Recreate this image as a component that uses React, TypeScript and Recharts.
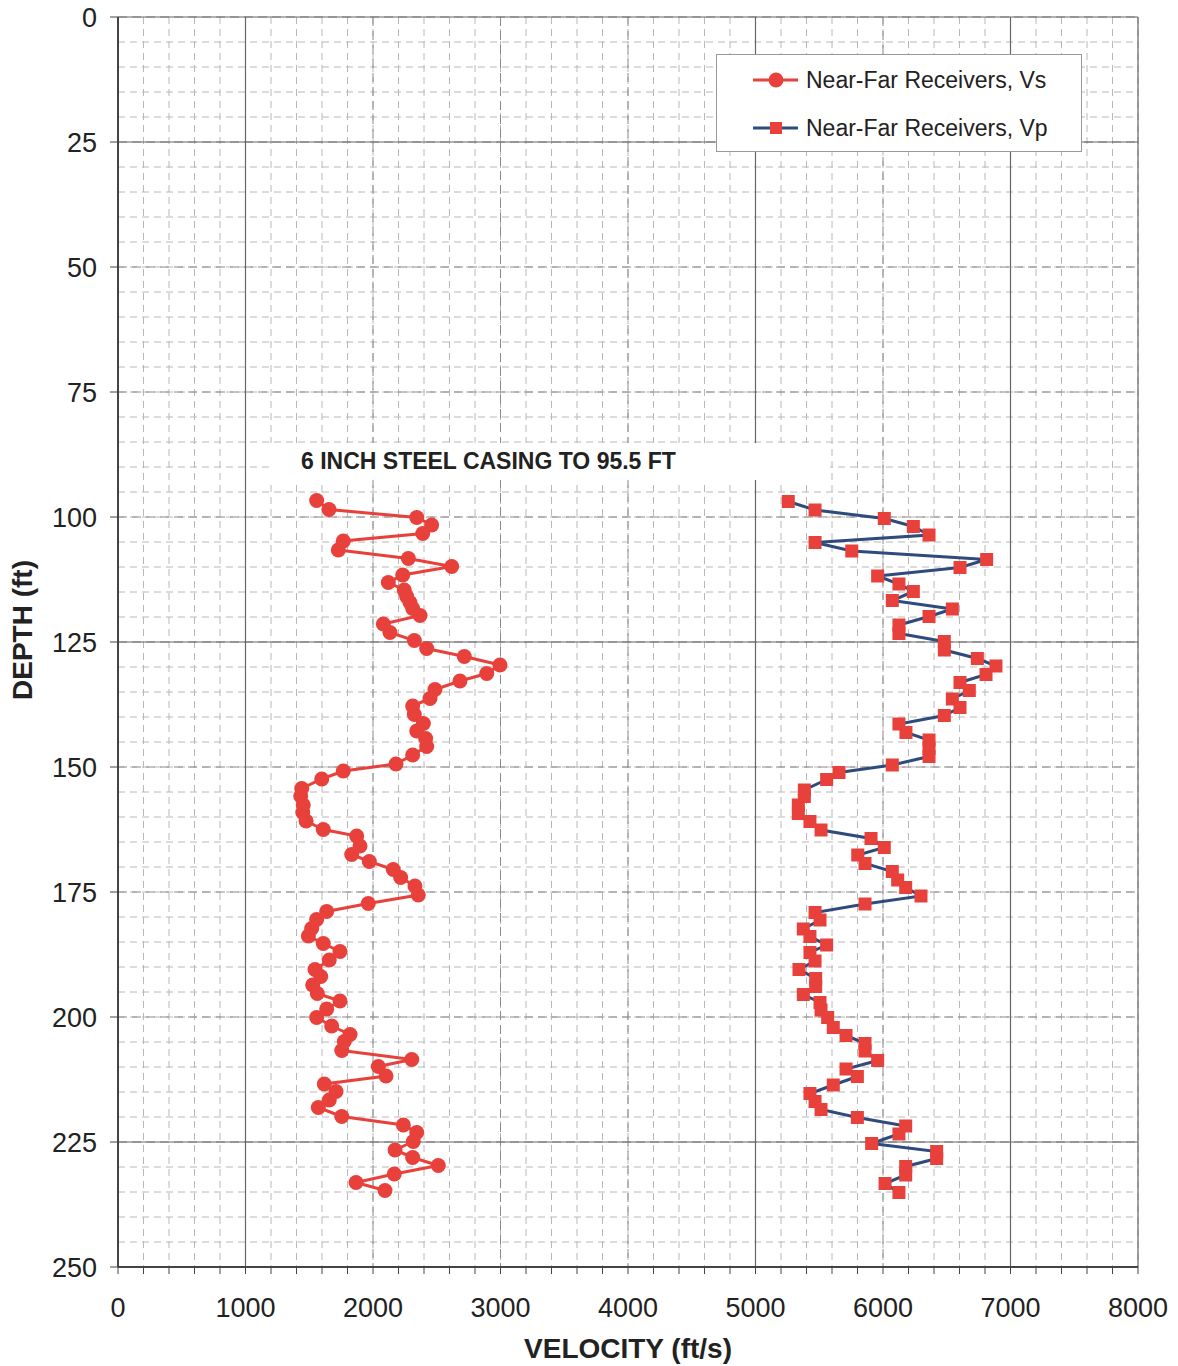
import React from "react"
import {
  ScatterChart,
  Scatter,
  XAxis,
  YAxis,
  CartesianGrid,
  Legend,
  Label,
} from "recharts"

// Vs (shear wave) readings, near-far receivers
const vsDepth = [
  96.7, 98.5, 100.1, 101.6, 103.3, 104.8, 106.6, 108.3, 109.9, 111.6, 113.1, 114.6,
  115.9, 117.1, 118.3, 119.7, 121.4, 123.1, 124.7, 126.3, 127.9, 129.6, 131.3, 132.8,
  134.5, 136.3, 137.8, 139.5, 141.3, 142.8, 144.3, 145.9, 147.6, 149.4, 150.8, 152.4,
  154.3, 155.8, 157.6, 159.1, 160.8, 162.5, 163.8, 165.8, 167.5, 168.9, 170.5, 172.1,
  173.8, 175.6, 177.3, 178.9, 180.5, 182.3, 183.8, 185.3, 186.9, 188.6, 190.5, 191.9,
  193.6, 195.3, 196.8, 198.4, 200.1, 201.8, 203.5, 204.9, 206.7, 208.5, 209.9, 211.8,
  213.4, 214.9, 216.6, 218.1, 219.9, 221.6, 223.1, 224.9, 226.6, 228.1, 229.7, 231.4,
  233.1, 234.7,
]
const vsVelocity = [
  1558, 1655, 2343, 2460, 2390, 1767, 1728, 2277, 2617, 2233, 2120, 2245,
  2264, 2290, 2311, 2369, 2081, 2133, 2324, 2421, 2716, 2996, 2892, 2682,
  2486, 2447, 2311, 2324, 2395, 2343, 2413, 2421, 2311, 2180, 1767, 1598,
  1441, 1433, 1453, 1449, 1475, 1610, 1872, 1898, 1833, 1971, 2159, 2217,
  2329, 2355, 1963, 1637, 1558, 1519, 1493, 1610, 1741, 1657, 1545, 1590,
  1527, 1563, 1741, 1637, 1558, 1676, 1820, 1775, 1755, 2304, 2042, 2102,
  1618, 1710, 1657, 1571, 1755, 2238, 2343, 2316, 2173, 2311, 2512, 2167,
  1867, 2094,
]

// Vp (compression wave) readings, near-far receivers
const vpDepth = [
  96.9, 98.6, 100.3, 101.9, 103.6, 105.1, 106.8, 108.5, 110.1, 111.8, 113.4, 114.9,
  116.7, 118.4, 119.9, 121.6, 123.3, 124.9, 126.6, 128.3, 129.8, 131.5, 133.1, 134.7,
  136.4, 138.1, 139.7, 141.4, 143.1, 144.6, 146.3, 147.9, 149.6, 151.1, 152.5,
  154.6, 155.9, 157.6, 159.3, 160.9, 162.6, 164.3, 166.1, 167.6, 169.3, 170.9, 172.6,
  174.1, 175.8, 177.4, 179.1, 180.6, 182.4, 183.9, 185.6, 187.1, 188.8, 190.5, 192.3,
  193.9, 195.5, 197.1, 198.6, 200.1, 202.1, 203.7, 205.3, 206.8, 208.7, 210.4, 211.9,
  213.6, 215.3, 216.9, 218.5, 220.1, 221.8, 223.4, 225.3, 226.9, 228.3, 229.9, 231.6,
  233.3, 235.1,
]
const vpVelocity = [
  5257, 5467, 6010, 6238, 6361, 5467, 5755, 6813, 6604, 5958, 6125, 6238,
  6073, 6544, 6361, 6125, 6125, 6481, 6481, 6740, 6886, 6808, 6604, 6677,
  6544, 6604, 6481, 6125, 6180, 6361, 6361, 6361, 6073, 5655, 5558,
  5383, 5383, 5336, 5336, 5427, 5514, 5906, 6010, 5802, 5859, 6073, 6115,
  6178, 6298, 5859, 5467, 5506, 5375, 5427, 5558, 5427, 5467, 5341, 5472,
  5472, 5375, 5506, 5514, 5566, 5610, 5710, 5859, 5859, 5958, 5710, 5799,
  5610, 5427, 5467, 5514, 5799, 6178, 6125, 5911, 6421, 6421, 6178, 6178,
  6016, 6125,
]

// axis ticks / grid
const depthTicks = [0, 25, 50, 75, 100, 125, 150, 175, 200, 225, 250]
const velocityTicks = [
  0, 200, 400, 600, 800, 1000, 1200, 1400, 1600, 1800, 2000, 2200, 2400, 2600, 2800,
  3000, 3200, 3400, 3600, 3800, 4000, 4200, 4400, 4600, 4800, 5000, 5200, 5400, 5600,
  5800, 6000, 6200, 6400, 6600, 6800, 7000, 7200, 7400, 7600, 7800, 8000,
]
const velocityLabels = [0, 1000, 2000, 3000, 4000, 5000, 6000, 7000, 8000]
const minorDepthGrid = [
  5, 10, 15, 20, 30, 35, 40, 45, 50, 55, 60, 65, 70, 75, 80, 85, 90, 95, 100, 105, 110,
  115, 120, 130, 135, 140, 145, 150, 155, 160, 165, 170, 175, 180, 185, 190, 195, 200,
  205, 210, 215, 220, 230, 235, 240, 245,
]
const midVelocityGrid = [2000, 3000, 4000, 6000]
const majorDepthGrid = [0, 25, 125, 225]
const majorVelocityGrid = [1000, 5000, 7000, 8000]

const vsData = vsDepth.map((d, i) => ({ depth: d, velocity: vsVelocity[i] }))
const vpData = vpDepth.map((d, i) => ({ depth: d, velocity: vpVelocity[i] }))

const RED = "#e8413c"
const BLUE = "#2f4a7c"
const FONT = "'Liberation Sans', Arial, sans-serif"

const Dot = (p: any) => <circle cx={p.cx} cy={p.cy} r={7.5} fill={RED} />
const Square = (p: any) => (
  <rect x={p.cx - 6.5} y={p.cy - 6.5} width={13} height={13} fill={RED} />
)

const VelocityTick = (p: any) => {
  if (!velocityLabels.includes(p.payload.value)) return <g />
  return (
    <text x={p.x} y={p.y} dy="0.71em" textAnchor="middle" fontSize={27} fill="#222" fontFamily={FONT}>
      {p.payload.value}
    </text>
  )
}

const renderLegend = () => (
  <div
    style={{
      width: 366,
      height: 98,
      border: "1px solid #999",
      background: "#fff",
      boxSizing: "border-box",
      fontFamily: FONT,
      fontSize: 23,
      color: "#222",
      paddingTop: 9,
    }}
  >
    {[
      { name: "Near-Far Receivers, Vs", line: RED, shape: "circle" },
      { name: "Near-Far Receivers, Vp", line: BLUE, shape: "square" },
    ].map((s) => (
      <div key={s.name} style={{ display: "flex", alignItems: "center", height: 32, marginBottom: 16 }}>
        <svg width={50} height={20} style={{ marginLeft: 35, marginRight: 4 }}>
          <line x1={1} y1={10} x2={46} y2={10} stroke={s.line} strokeWidth={3} />
          {s.shape === "circle" ? (
            <circle cx={24} cy={10} r={7.5} fill={RED} />
          ) : (
            <rect x={18} y={4} width={12} height={12} fill={RED} />
          )}
        </svg>
        <span>{s.name}</span>
      </div>
    ))}
  </div>
)

export default function App() {
  return (
    <div style={{ position: "relative", width: 1170, height: 1366, marginTop: -8, fontFamily: FONT }}>
      <ScatterChart width={1170} height={1366} margin={{ top: 17, right: 40, bottom: 0, left: 0 }}>
        <CartesianGrid
          stroke="#b8b8b8"
          strokeDasharray="7 5"
          horizontalValues={minorDepthGrid}
          verticalValues={velocityTicks}
        />
        <CartesianGrid
          stroke="#8a8a8a"
          strokeDasharray="9 5"
          horizontalValues={[]}
          verticalValues={midVelocityGrid}
        />
        <CartesianGrid
          stroke="#666"
          strokeWidth={1.2}
          horizontalValues={majorDepthGrid}
          verticalValues={majorVelocityGrid}
        />
        <XAxis
          type="number"
          dataKey="velocity"
          domain={[0, 8000]}
          ticks={velocityTicks}
          interval={0}
          tick={<VelocityTick />}
          tickSize={7}
          tickMargin={24}
          height={99}
          axisLine={{ stroke: "#444", strokeWidth: 2 }}
          tickLine={{ stroke: "#444" }}
        >
          <Label
            value="VELOCITY (ft/s)"
            position="insideBottom"
            offset={8}
            style={{ fontSize: 28, fontWeight: "bold", fill: "#222", fontFamily: FONT }}
          />
        </XAxis>
        <YAxis
          type="number"
          dataKey="depth"
          reversed
          domain={[0, 250]}
          ticks={depthTicks}
          interval={0}
          width={110}
          tickSize={8}
          tickMargin={13}
          tick={{ fontSize: 27, fill: "#222", fontFamily: FONT }}
          axisLine={{ stroke: "#444", strokeWidth: 2 }}
          tickLine={{ stroke: "#444" }}
        >
          <Label
            content={(p: any) => {
              const vb = p.viewBox
              const cx = vb.x + 14
              const cy = vb.y + vb.height / 2 - 12
              return (
                <text
                  x={cx}
                  y={cy}
                  transform={`rotate(-90, ${cx}, ${cy})`}
                  textAnchor="middle"
                  dominantBaseline="central"
                  fontSize={28}
                  fontWeight="bold"
                  fill="#222"
                  fontFamily={FONT}
                >
                  DEPTH (ft)
                </text>
              )
            }}
          />
        </YAxis>
        <Legend
          layout="vertical"
          align="center"
          verticalAlign="middle"
          content={renderLegend}
          wrapperStyle={{ left: 708, top: 54, width: 366 }}
        />
        <Scatter
          name="Near-Far Receivers, Vs"
          data={vsData}
          line={{ stroke: RED, strokeWidth: 3 }}
          shape={Dot}
          isAnimationActive={false}
        />
        <Scatter
          name="Near-Far Receivers, Vp"
          data={vpData}
          line={{ stroke: BLUE, strokeWidth: 3 }}
          shape={Square}
          isAnimationActive={false}
        />
      </ScatterChart>
      <div
        style={{
          position: "absolute",
          left: 262,
          top: 443,
          width: 560,
          height: 37,
          lineHeight: "37px",
          background: "#fff",
          paddingLeft: 31,
          boxSizing: "border-box",
          fontSize: 23,
          fontWeight: "bold",
          color: "#222",
        }}
      >
        6 INCH STEEL CASING TO 95.5 FT
      </div>
    </div>
  )
}
